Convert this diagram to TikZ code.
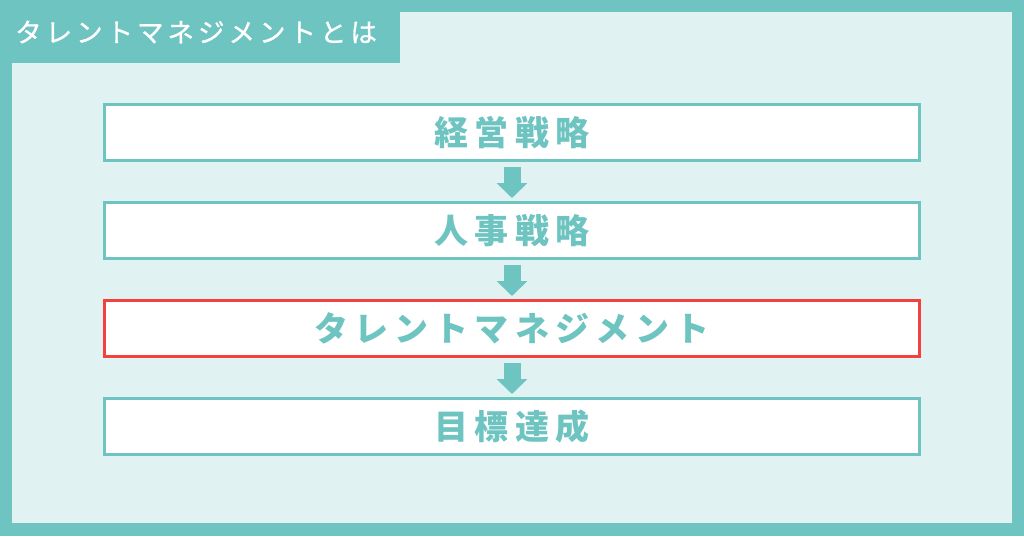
\documentclass[tikz,border=0pt]{standalone}
\usepackage{fontspec}
\newfontfamily\jpfont[LetterSpace=18]{Noto Sans CJK JP}
\newfontfamily\jptitle[LetterSpace=15,FakeBold=1]{Noto Sans CJK JP}
\usetikzlibrary{arrows.meta,positioning}
\definecolor{teal}{HTML}{6DC4C1}
\definecolor{paleteal}{HTML}{E0F2F1}
\definecolor{alertred}{HTML}{F54040}

\tikzset{
    stagebox/.style={draw=teal, line width=3pt, fill=white, minimum width=815pt, minimum height=56pt,
        inner sep=0pt, text=teal, font=\jpfont\bfseries\fontsize{34pt}{34pt}\selectfont},
    downarrow/.style={teal, line width=17pt, -{Triangle[width=30pt,length=15pt]}, shorten <=5pt, shorten >=3pt}
}

\begin{document}
\begin{tikzpicture}[x=1pt, y=-1pt, node distance=39pt]
    % frame and tab
    \useasboundingbox (0,0) rectangle (1024,536);
    \fill[teal] (0,0) rectangle (1024,536);
    \fill[paleteal] (12,12) rectangle (1012,523);
    \fill[teal] (0,0) rectangle (400,63);
    \node[anchor=west, inner sep=0pt, text=white, font=\jptitle\fontsize{26.5pt}{26.5pt}\selectfont] (title) at (15,32) {タレントマネジメントとは};

    % stages
    \node[stagebox] (keiei) at (512,132.5) {経営戦略};
    \node[stagebox, below=of keiei] (jinji) {人事戦略};
    \node[stagebox, draw=alertred, below=of jinji] (talent) {タレントマネジメント};
    \node[stagebox, below=of talent] (mokuhyo) {目標達成};

    % arrows between stages
    \foreach \a/\b in {keiei/jinji, jinji/talent, talent/mokuhyo}
        \draw[downarrow] (\a.south) -- (\b.north);
\end{tikzpicture}
\end{document}
